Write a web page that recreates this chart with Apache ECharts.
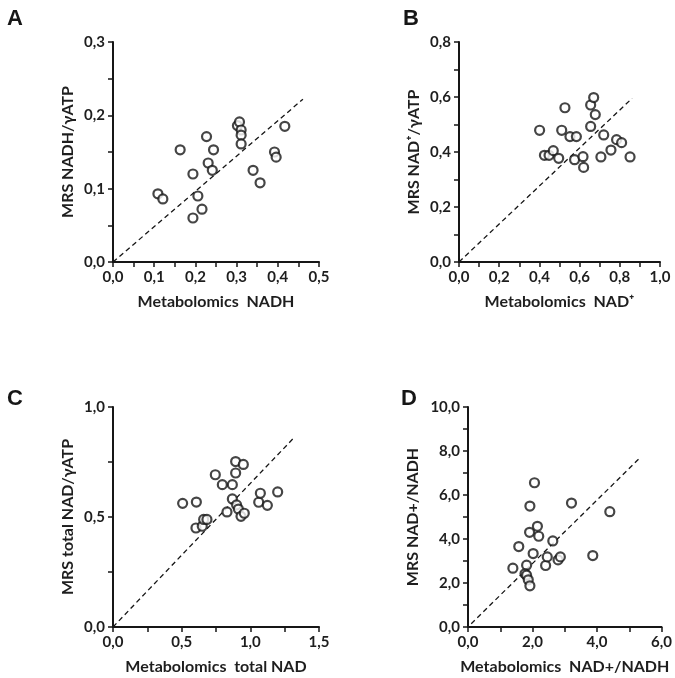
<!DOCTYPE html>
<html>
<head>
<meta charset="utf-8">
<style>
html, body { margin: 0; padding: 0; background: #fff; }
#main { width: 675px; height: 678px; }
</style>
<script src="https://cdn.jsdelivr.net/npm/echarts@6/dist/echarts.min.js"></script>
</head>
<body>
<div id="main"></div>
<script>
// panel A: NADH
var nadhX = [0.109, 0.121, 0.163, 0.194, 0.194, 0.206, 0.216, 0.227, 0.231, 0.241, 0.244,
    0.302, 0.307, 0.311, 0.311, 0.311, 0.340, 0.357, 0.392, 0.396, 0.417];
var nadhY = [0.093, 0.086, 0.153, 0.120, 0.060, 0.090, 0.072, 0.171, 0.135, 0.125, 0.153,
    0.186, 0.191, 0.180, 0.173, 0.161, 0.125, 0.108, 0.150, 0.143, 0.185];
var nadhLine = [[0, 0], [0.461, 0.222]];

// panel B: NAD+
var nadX = [0.401, 0.425, 0.448, 0.469, 0.496, 0.511, 0.527, 0.552, 0.584, 0.575, 0.617,
    0.620, 0.655, 0.655, 0.670, 0.678, 0.706, 0.720, 0.756, 0.784, 0.809, 0.851];
var nadY = [0.479, 0.388, 0.388, 0.405, 0.377, 0.479, 0.561, 0.456, 0.456, 0.372, 0.383,
    0.344, 0.493, 0.571, 0.598, 0.536, 0.382, 0.462, 0.407, 0.445, 0.434, 0.382];
var nadLine = [[0, 0], [0.861, 0.595]];

// panel C: total NAD
var totalX = [0.507, 0.607, 0.604, 0.650, 0.660, 0.684, 0.745, 0.796, 0.830, 0.869, 0.869,
    0.893, 0.893, 0.900, 0.913, 0.932, 0.956, 0.949, 1.061, 1.073, 1.124, 1.199];
var totalY = [0.562, 0.568, 0.450, 0.458, 0.489, 0.489, 0.692, 0.647, 0.523, 0.647, 0.582,
    0.752, 0.700, 0.555, 0.536, 0.503, 0.517, 0.739, 0.567, 0.608, 0.553, 0.614];
var totalLine = [[0, 0], [1.311, 0.856]];

// panel D: NAD+/NADH ratio
var ratioX = [1.391, 1.574, 1.817, 1.767, 1.817, 1.868, 1.919, 1.919, 1.909, 2.020, 2.061,
    2.152, 2.193, 2.406, 2.457, 2.629, 2.792, 2.863, 3.208, 3.868, 4.396];
var ratioY = [2.674, 3.656, 2.810, 2.417, 2.356, 2.145, 1.873, 5.498, 4.305, 3.338, 6.556,
    4.577, 4.124, 2.795, 3.187, 3.912, 3.051, 3.187, 5.634, 3.248, 5.242];
var ratioLine = [[0.1, 0.15], [5.36, 7.73]];

var letters = ['A', 'B', 'C', 'D'];
var xNames = ['Metabolomics  NADH', 'Metabolomics  NAD\u207A', 'Metabolomics  total NAD', 'Metabolomics  NAD+/NADH'];
var yNames = ['MRS NADH/\u03B3ATP', 'MRS NAD\u207A/\u03B3ATP', 'MRS total NAD/\u03B3ATP', 'MRS NAD+/NADH'];
var xMax = [0.5, 1.0, 1.5, 6.0];
var xStep = [0.1, 0.2, 0.5, 2.0];
var yMax = [0.3, 0.8, 1.0, 10.0];
var yStep = [0.1, 0.2, 0.5, 2.0];

var grids = [
    {left: 113, top: 42, width: 206, height: 220},
    {left: 459, top: 42, width: 201, height: 220},
    {left: 113, top: 407, width: 206, height: 220},
    {left: 468, top: 407, width: 197, height: 220}
];
var letterPos = [[2, 3], [398, 3], [2, 383], [396, 383]];
var yGap = [37, 37, 37, 47];

function zip(a, b) {
    return a.map(function (v, i) { return [v, b[i]]; });
}
var points = [zip(nadhX, nadhY), zip(nadX, nadY), zip(totalX, totalY), zip(ratioX, ratioY)];
var lines = [nadhLine, nadLine, totalLine, ratioLine];

var ink = '#161616';
var font = 'Lato';
function comma(v) { return v.toFixed(1).replace('.', ','); }

var xAxes = [], yAxes = [], series = [], titles = [];
for (var i = 0; i < 4; i++) {
    titles.push({
        text: letters[i], left: letterPos[i][0], top: letterPos[i][1],
        textStyle: {fontFamily: 'Liberation Sans', fontWeight: 'bold', fontSize: 22, color: ink}
    });
    var common = {
        type: 'value', gridIndex: i, min: 0,
        nameLocation: 'middle',
        nameTextStyle: {fontFamily: font, fontWeight: 'bold', fontSize: 16, color: '#1e1e1e'},
        axisLine: {show: true, lineStyle: {color: ink, width: 2}},
        axisTick: {show: true, length: 5, inside: false, lineStyle: {color: ink, width: 1.5}},
        minorTick: {show: true, splitNumber: 2, length: 5, lineStyle: {color: ink, width: 1.5}},
        splitLine: {show: false},
        axisLabel: {fontFamily: font, fontWeight: 'bold', fontSize: 15, color: '#1e1e1e', formatter: comma, margin: 8}
    };
    xAxes.push(Object.assign({}, common, {
        max: xMax[i], interval: xStep[i], name: xNames[i], nameGap: 32
    }));
    yAxes.push(Object.assign({}, common, {
        max: yMax[i], interval: yStep[i], name: yNames[i], nameGap: yGap[i]
    }));
    series.push({
        type: 'scatter', xAxisIndex: i, yAxisIndex: i, data: points[i],
        symbol: 'circle', symbolSize: 9,
        itemStyle: {color: '#fff', borderColor: ink, borderWidth: 2.2}, z: 3
    });
    series.push({
        type: 'line', xAxisIndex: i, yAxisIndex: i, data: lines[i],
        symbol: 'none', silent: true,
        lineStyle: {color: ink, width: 1.3, type: [5, 3.5]}, z: 2
    });
}

var chart = echarts.init(document.getElementById('main'));
chart.setOption({
    animation: false,
    backgroundColor: '#fff',
    title: titles,
    grid: grids,
    xAxis: xAxes,
    yAxis: yAxes,
    series: series
});
</script>
</body>
</html>
